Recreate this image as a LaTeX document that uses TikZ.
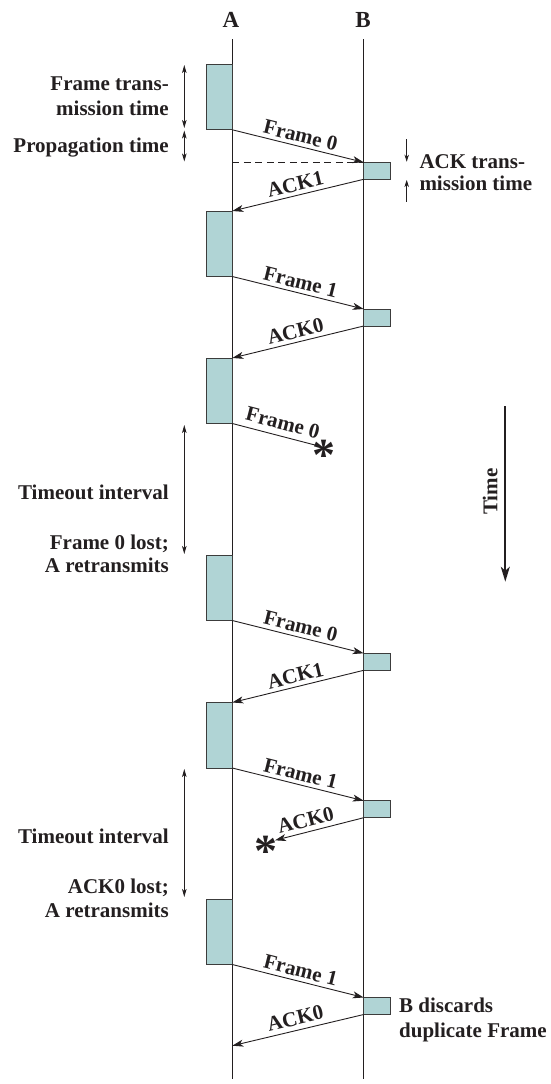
\documentclass[tikz,border=0pt]{standalone}
\usepackage{fontspec}
\setmainfont{Liberation Serif}
\usetikzlibrary{arrows.meta}
\definecolor{ink}{HTML}{231F20}
\definecolor{boxfill}{RGB}{176,212,213}
\definecolor{boxline}{HTML}{3C3C3C}
\begin{document}
\begin{tikzpicture}[x=1pt,y=-1pt,
  txt/.style={font=\fontsize{21}{23}\selectfont\bfseries, text=ink},
  lbl/.style={txt, anchor=east, inner sep=0pt, text height=14.5pt, text depth=0pt},
  rlbl/.style={txt, anchor=west, inner sep=0pt, text height=14.5pt, text depth=0pt},
  head/.style={font=\fontsize{23}{25}\selectfont\bfseries, text=ink, inner sep=0pt, text height=15.5pt, text depth=0pt},
  abox/.style={draw=boxline, fill=boxfill, line width=0.9pt, minimum width=26pt, minimum height=65.5pt, inner sep=0pt, outer sep=0pt, anchor=north east},
  bbox/.style={draw=boxline, fill=boxfill, line width=0.9pt, minimum width=26.3pt, minimum height=17pt, inner sep=0pt, outer sep=0pt, anchor=north west},
  life/.style={draw=ink, line width=0.9pt},
  msg/.style={draw=ink, line width=0.9pt, -{Stealth[length=11pt,width=7pt,inset=3pt]}},
  lost/.style={draw=ink, line width=0.9pt},
  mlbl/.style={txt, sloped, above, inner sep=3.5pt},
  dim/.style={draw=ink, line width=0.8pt, {Stealth[length=8pt,width=4.5pt,inset=2pt]}-{Stealth[length=8pt,width=4.5pt,inset=2pt]}},
  tick/.style={draw=ink, line width=0.8pt, -{Stealth[length=7pt,width=4.5pt,inset=2pt]}},
  astx/.style={font=\fontsize{46}{46}\selectfont\bfseries, text=ink, inner sep=0pt, anchor=base},
  timearrow/.style={draw=ink, line width=1.8pt, -{Stealth[length=15pt,width=9pt,inset=4pt]}}
]
\useasboundingbox (0,0) rectangle (550,1084);

% headers
\node[head] (hA) at (231,20) {A};
\node[head] (hB) at (363,20) {B};

% lifelines
\coordinate (Atop) at (232.3,39.3);
\coordinate (Abot) at (232.3,1079);
\coordinate (Btop) at (363.7,39.3);
\coordinate (Bbot) at (363.7,1079);
\draw[life] (Atop) -- (Abot);
\draw[life] (Btop) -- (Bbot);

% A boxes
\node[abox] (a1) at (232.3,64.3) {};
\node[abox] (a2) at (232.3,211) {};
\node[abox] (a3) at (232.3,358) {};
\node[abox] (a4) at (232.3,555) {};
\node[abox] (a5) at (232.3,702.5) {};
\node[abox] (a6) at (232.3,899) {};

% B boxes
\node[bbox] (b1) at (363.7,162.3) {};
\node[bbox] (b2) at (363.7,309) {};
\node[bbox] (b4) at (363.7,653.3) {};
\node[bbox] (b5) at (363.7,800.7) {};
\node[bbox] (b6) at (363.7,997.5) {};

% dashed propagation reference
\coordinate (dA) at (232.3,162.3);
\draw[ink, line width=0.8pt, dash pattern=on 7pt off 4.5pt] (dA) -- (b1.north west);

% messages
\draw[msg] (a1.south east) -- (b1.north west) node[mlbl, midway] (m1) {Frame 0};
\draw[msg] (b1.south west) -- (a2.north east) node[mlbl, midway] (m2) {ACK1};
\draw[msg] (a2.south east) -- (b2.north west) node[mlbl, midway] (m3) {Frame 1};
\draw[msg] (b2.south west) -- (a3.north east) node[mlbl, midway] (m4) {ACK0};

\coordinate (x1) at (318,445.8);
\draw[lost] (a3.south east) -- (x1) node[mlbl, pos=0.55, inner sep=6pt] (m5) {Frame 0};
\node[astx] (s1) at (324,470) {*};

\draw[msg] (a4.south east) -- (b4.north west) node[mlbl, midway] (m6) {Frame 0};
\draw[msg] (b4.south west) -- (a5.north east) node[mlbl, midway] (m7) {ACK1};
\draw[msg] (a5.south east) -- (b5.north west) node[mlbl, midway] (m8) {Frame 1};

\coordinate (x2) at (275,840.3);
\draw[msg] (b5.south west) -- (x2) node[mlbl, pos=0.62, inner sep=4.5pt] (m9) {ACK0};
\node[astx] (s2) at (266,866) {*};

\draw[msg] (a6.south east) -- (b6.north west) node[mlbl, midway] (m10) {Frame 1};
\coordinate (aend) at (232.3,1045.7);
\draw[msg] (b6.south west) -- (aend) node[mlbl, midway, inner sep=4.5pt] (m11) {ACK0};

% left dimension arrows
\coordinate (f1) at (184.3,65);
\coordinate (f2) at (184.3,128);
\coordinate (p1) at (184.3,130.5);
\coordinate (p2) at (184.3,161.5);
\draw[dim] (f1) -- (f2);
\draw[dim] (p1) -- (p2);
\coordinate (t1) at (184.3,425);
\coordinate (t2) at (184.3,554);
\coordinate (t3) at (184.3,769);
\coordinate (t4) at (184.3,897);
\draw[dim] (t1) -- (t2);
\draw[dim] (t3) -- (t4);

% ACK transmission time ticks
\coordinate (k1) at (406.7,139.3);
\coordinate (k2) at (406.7,161.7);
\coordinate (k3) at (406.7,201.7);
\coordinate (k4) at (406.7,180);
\draw[tick] (k1) -- (k2);
\draw[tick] (k3) -- (k4);

% left labels
\node[lbl] (L1) at (169,83.3) {Frame trans-};
\node[lbl] (L2) at (169,108.3) {mission time};
\node[lbl] (L3) at (169,145) {Propagation time};
\node[lbl] (L4) at (169,492.3) {Timeout interval};
\node[lbl] (L5) at (169,542.7) {Frame 0 lost;};
\node[lbl] (L6) at (169,565.7) {A retransmits};
\node[lbl] (L7) at (169,836) {Timeout interval};
\node[lbl] (L8) at (169,886.7) {ACK0 lost;};
\node[lbl] (L9) at (169,910) {A retransmits};

% right labels
\node[rlbl] (R1) at (419.3,161) {ACK trans-};
\node[rlbl] (R2) at (419.3,183.3) {mission time};
\node[rlbl] (R3) at (399,1005) {B discards};
\node[rlbl] (R4) at (399,1030) {duplicate Frame};

% time arrow
\coordinate (T1) at (505.3,406);
\coordinate (T2) at (505.3,581.7);
\draw[timearrow] (T1) -- (T2);
\node[txt, rotate=90, inner sep=0pt, text height=14.5pt, text depth=0pt] (Tl) at (490,491.7) {Time};
\end{tikzpicture}
\end{document}
